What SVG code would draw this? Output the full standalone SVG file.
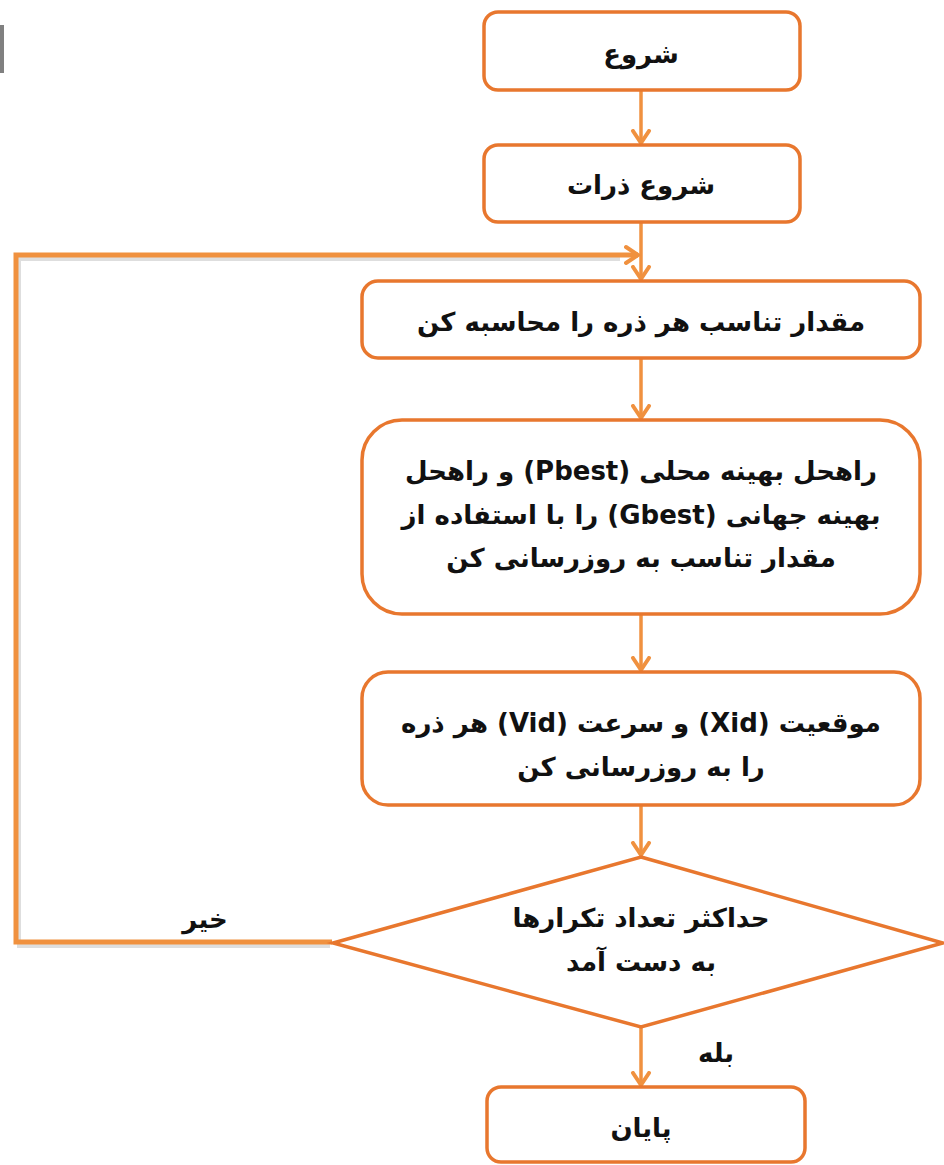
<svg xmlns="http://www.w3.org/2000/svg" width="944" height="1165" viewBox="0 0 944 1165">
<style>
.node{fill:#ffffff;stroke:#E8772E;stroke-width:3.5}
.t{font-family:"DejaVu Sans",sans-serif;font-size:26px;font-weight:bold;fill:#111111;text-anchor:middle;direction:rtl}
.c{fill:none;stroke:#F0913F;stroke-width:3.5}
.loop{fill:none;stroke:#F0913F;stroke-width:5}
.shadow{fill:none;stroke:#c8c8c8;stroke-width:4;opacity:0.6}
</style>
<defs>
<marker id="ah" markerUnits="userSpaceOnUse" markerWidth="30" markerHeight="30" refX="14" refY="10" orient="auto" viewBox="0 0 30 20">
<path d="M2,2 L14,10 L2,18" fill="none" stroke="#F0913F" stroke-width="4" stroke-linecap="round"/>
</marker>
</defs>
<rect x="0" y="25" width="4" height="48" fill="#808080"/>
<g id="connectors">
<path class="shadow" d="M330,946 L19,946 L19,259 L620,259"/>
<path class="c" d="M641,90 L641,143" marker-end="url(#ah)"/>
<path class="c" d="M641,222 L641,279" marker-end="url(#ah)"/>
<path class="loop" d="M332,942 L16,942 L16,255 L638,255" marker-end="url(#ah)"/>
<path class="c" d="M641,358 L641,418" marker-end="url(#ah)"/>
<path class="c" d="M641,614 L641,670" marker-end="url(#ah)"/>
<path class="c" d="M641,805 L641,855" marker-end="url(#ah)"/>
<path class="c" d="M641,1027 L641,1085" marker-end="url(#ah)"/>
<text class="t" x="205" y="928">خیر</text>
<text class="t" x="716" y="1062">بله</text>
</g>
<g id="start">
<rect class="node" x="484" y="12" width="316" height="78" rx="14"/>
<text class="t" x="641" y="63">شروع</text>
</g>
<g id="init">
<rect class="node" x="484" y="145" width="316" height="77" rx="14"/>
<text class="t" x="641" y="194">شروع ذرات</text>
</g>
<g id="fitness">
<rect class="node" x="362" y="281" width="558" height="77" rx="16"/>
<text class="t" x="641" y="331">مقدار تناسب هر ذره را محاسبه کن</text>
</g>
<g id="update-best">
<rect class="node" x="362" y="420" width="558" height="194" rx="40"/>
<text class="t" x="641" y="480">راهحل بهینه محلی (Pbest) و راهحل</text>
<text class="t" x="641" y="524">بهینه جهانی (Gbest) را با استفاده از</text>
<text class="t" x="641" y="567">مقدار تناسب به روزرسانی کن</text>
</g>
<g id="update-pos">
<rect class="node" x="362" y="672" width="558" height="133" rx="26"/>
<text class="t" x="641" y="732">موقعیت (Xid) و سرعت (Vid) هر ذره</text>
<text class="t" x="641" y="776">را به روزرسانی کن</text>
</g>
<g id="decision">
<polygon class="node" points="641,857 943,943 641,1027 333,943"/>
<text class="t" x="641" y="927">حداکثر تعداد تکرارها</text>
<text class="t" x="641" y="971">به دست آمد</text>
</g>
<g id="end">
<rect class="node" x="487" y="1087" width="318" height="75" rx="14"/>
<text class="t" x="641" y="1137">پایان</text>
</g>
</svg>
